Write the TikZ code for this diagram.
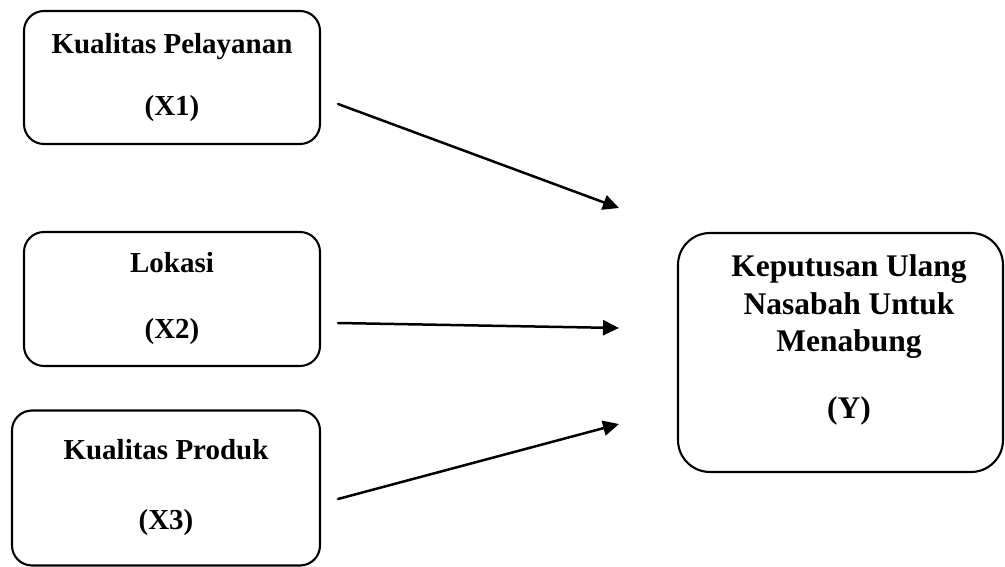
\documentclass[tikz,border=0pt]{standalone}
\usepackage{fontspec}
\setmainfont{Liberation Serif}
\usetikzlibrary{arrows.meta}
\begin{document}
\begin{tikzpicture}[x=1pt, y=-1pt, line join=round, line cap=round, >={Triangle[length=16pt,width=15pt]},
    varbox/.style={draw, line width=2.1pt, rounded corners=20pt, align=center, inner sep=0pt, font=\fontsize{29}{33}\selectfont\bfseries},
    ybox/.style={draw, line width=2.1pt, rounded corners=32pt, minimum width=325pt, minimum height=239pt},
    ytext/.style={align=center, inner sep=0pt, font=\fontsize{31.5}{37.5}\selectfont\bfseries},
    link/.style={->, line width=2.5pt}]
    \useasboundingbox (0,0) rectangle (1005,567);
    % variabel bebas
    \node[varbox, minimum width=296pt, minimum height=133pt] (x1) at (172,77.5) {Kualitas Pelayanan\\[29pt](X1)};
    \node[varbox, minimum width=296pt, minimum height=134pt] (x2) at (172,299) {Lokasi\\[33pt](X2)};
    \node[varbox, minimum width=308pt, minimum height=155pt] (x3) at (166,488) {Kualitas Produk\\[37pt](X3)};
    % variabel terikat
    \node[ybox] (y) at (840.5,352.5) {};
    \node[ytext] (ylabel) at (849,340) {Keputusan Ulang\\Nasabah Untuk\\Menabung\\[29.5pt](Y)};
    \coordinate (s1) at (338,104); \coordinate (t1) at (619,208);
    \coordinate (s2) at (338,323); \coordinate (t2) at (619,328);
    \coordinate (s3) at (338,499); \coordinate (t3) at (619,424);
    \foreach \a/\b in {s1/t1, s2/t2, s3/t3} \draw[link] (\a)--(\b);
\end{tikzpicture}
\end{document}
